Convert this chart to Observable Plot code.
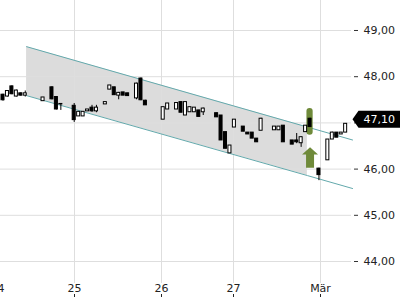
<!DOCTYPE html>
<html><head><meta charset="utf-8">
<script src="https://cdn.jsdelivr.net/npm/d3@7"></script>
<script src="https://cdn.jsdelivr.net/npm/@observablehq/plot@0.6"></script>
<style>html,body{margin:0;padding:0;background:#fff;overflow:hidden}</style>
</head><body><div id="chart"></div>
<script>
// candle slot (trading interval index) and OHLC prices
const slots  = [0,1,2,3,4,5,6,7,8,9,10,11,12,13,14,15,16,17,18,19,20,21,23,24,25,26,27,28,29,30,31,32,33,34,36,37,38,39,40,41,42,43,44,45,47,48,49,50,51,52,53,54,55,56,57,58,59,61,62,63,64,65,66,67,68,69,70,71,73,74,75,76,77,78];
const opens  = [47.61,47.57,47.79,47.57,47.64,47.59,47.63,47.54,47.53,47.47,47.51,47.77,47.56,47.41,47.29,47.28,47.37,47.14,47.14,47.25,47.33,47.25,47.40,47.72,47.77,47.59,47.66,47.64,47.45,47.53,47.96,47.48,47.34,47.38,47.07,47.29,47.29,47.29,47.45,47.16,47.23,47.23,47.27,47.23,47.25,47.21,47.16,46.80,46.34,46.90,47.00,46.92,46.79,46.79,46.66,46.83,46.98,46.84,46.84,46.94,46.58,46.62,46.62,46.56,46.80,47.09,47.09,46.01,46.19,46.64,46.79,46.75,46.79,47.10];
const highs  = [47.62,47.70,47.80,47.71,47.65,47.69,47.63,47.54,47.53,47.55,47.51,47.78,47.57,47.42,47.29,47.28,47.42,47.24,47.24,47.29,47.38,47.38,47.45,47.81,47.77,47.66,47.66,47.64,47.45,47.86,47.97,47.49,47.34,47.38,47.34,47.42,47.29,47.43,47.45,47.45,47.34,47.33,47.27,47.32,47.25,47.21,47.16,46.80,46.51,47.07,47.00,46.92,46.79,46.79,46.66,47.10,46.98,46.92,46.92,46.94,46.58,46.62,46.77,46.70,46.94,47.10,47.09,46.02,46.64,46.80,46.79,46.79,46.98,47.10];
const lows   = [47.47,47.56,47.61,47.56,47.58,47.56,47.63,47.54,47.53,47.47,47.51,47.50,47.28,47.27,47.29,47.28,47.01,47.14,47.14,47.25,47.23,47.22,47.40,47.72,47.60,47.50,47.59,47.58,47.45,47.50,47.48,47.38,47.34,47.38,47.07,47.29,47.29,47.29,47.22,47.16,47.23,47.23,47.13,47.16,47.25,47.12,46.62,46.44,46.34,46.90,47.00,46.81,46.75,46.66,46.58,46.83,46.98,46.84,46.84,46.58,46.58,46.53,46.55,46.47,46.80,46.91,47.09,45.75,46.19,46.64,46.68,46.75,46.79,47.10];
const closes = [47.49,47.69,47.62,47.70,47.59,47.64,47.63,47.54,47.53,47.55,47.51,47.51,47.29,47.40,47.29,47.28,47.06,47.24,47.24,47.29,47.25,47.33,47.45,47.81,47.60,47.65,47.59,47.58,47.45,47.85,47.49,47.38,47.34,47.38,47.34,47.42,47.29,47.43,47.22,47.45,47.34,47.33,47.13,47.31,47.25,47.12,46.62,46.44,46.51,47.07,47.00,46.81,46.75,46.66,46.58,47.09,46.98,46.92,46.92,46.58,46.58,46.53,46.58,46.69,46.94,46.91,47.09,45.87,46.64,46.79,46.68,46.79,46.98,47.10];

// day ticks on the time axis
const dayTickSlots = [-1.24, 16.07, 35.62, 51.8, 71.35];
const dayLabels    = ["24", "25", "26", "27", "Mär"];

// price axis ticks (47,00 is hidden behind the last-price tag)
const priceTicks = [44, 45, 46, 47, 48, 49];
const hiddenPriceLabel = 47;

// trend channel
const channelSlots  = [5.3, 68.4, 78.55];
const channelTop    = [48.65, 46.91, 46.63];
const channelBottom = [47.59, 45.86, 45.58];

// signal: highlighted candle bar and up arrow
const signalSlot = 69;
const signalBarHigh = 47.31;
const signalBarLow = 46.73;
const signalArrowPrice = 46.25;

const lastPrice = 47.10;

const candles = slots.map((s, i) => ({s, open: opens[i], high: highs[i], low: lows[i], close: closes[i]}));
const channel = channelSlots.map((s, i) => ({s, top: channelTop[i], bottom: channelBottom[i]}));
const channelFill = channel.slice(0, 2);
const dayTicks = dayTickSlots.map((s, i) => ({s, label: dayLabels[i]}));
const labelOf = new Map(dayTicks.map(d => [d.s, d.label]));

const fmt = d => d.toFixed(2).replace(".", ",");
const olive = "#6f8a3a";
const teal = "#63a9ac";

const arrowSymbol = {draw(ctx) {
  ctx.moveTo(0, -10.3); ctx.lineTo(8, -3); ctx.lineTo(4, -3); ctx.lineTo(4, 10.3);
  ctx.lineTo(-4, 10.3); ctx.lineTo(-4, -3); ctx.lineTo(-8, -3); ctx.closePath();
}};
const priceTagSymbol = {draw(ctx) {
  ctx.moveTo(1, 0); ctx.lineTo(7, -8.5); ctx.lineTo(50, -8.5); ctx.lineTo(50, 8.5);
  ctx.lineTo(7, 8.5); ctx.closePath();
}};

const plot = Plot.plot({
  width: 400,
  height: 300,
  marginLeft: 0,
  marginRight: 49,
  marginTop: 0,
  marginBottom: 17,
  style: {fontFamily: "DejaVu Sans", fontSize: "11px", background: "white", color: "#222"},
  x: {type: "linear", domain: [-0.562, 78.315], label: null},
  y: {type: "linear", domain: [43.524, 49.649], label: null},
  marks: [
    Plot.areaY(channelFill, {x: "s", y1: "bottom", y2: "top", fill: "#dcdcdc", curve: "linear"}),
    Plot.ruleY(priceTicks, {stroke: "#dedede"}),
    Plot.ruleX(dayTickSlots, {stroke: "#dedede"}),
    Plot.line(channel, {x: "s", y: "top", stroke: teal, strokeWidth: 1}),
    Plot.line(channel, {x: "s", y: "bottom", stroke: teal, strokeWidth: 1}),
    Plot.rect([signalSlot], {x1: d => d - 0.7, x2: d => d + 0.7, y1: () => signalBarLow, y2: () => signalBarHigh, fill: olive, rx: 3}),
    Plot.dot([signalSlot], {x: d => d, y: () => signalArrowPrice, symbol: arrowSymbol, fill: olive, stroke: "none"}),
    Plot.ruleX(candles, {x: "s", y1: "low", y2: "high", stroke: "#000", strokeWidth: 1}),
    Plot.rect(candles, {
      x1: d => d.s - 0.34, x2: d => d.s + 0.34,
      y1: "open", y2: "close",
      fill: d => d.close > d.open ? "#fff" : "#000",
      stroke: "#000", strokeWidth: 1
    }),
    Plot.axisY(priceTicks, {anchor: "right", label: null, tickSize: 4, dx: 2, tickPadding: 6, tickFormat: d => d === hiddenPriceLabel ? "" : fmt(d), fontSize: 11, stroke: "#333", fill: "#222"}),
    Plot.axisX(dayTickSlots, {anchor: "bottom", label: null, tickSize: 0, tickPadding: 1, tickFormat: d => labelOf.get(d), fontSize: 11, fill: "#222"}),
    Plot.axisX(dayTickSlots, {anchor: "bottom", label: null, tickSize: 3, dy: 11, tickFormat: () => "", stroke: "#222"}),
    Plot.dot([lastPrice], {y: d => d, frameAnchor: "right", dy: 1, symbol: priceTagSymbol, fill: "#000", stroke: "none"}),
    Plot.text([lastPrice], {y: d => d, frameAnchor: "right", dx: 12, dy: 1, textAnchor: "start", fill: "#fff", text: d => fmt(d), fontSize: 11})
  ]
});
document.getElementById("chart").appendChild(plot);
</script>
</body></html>
